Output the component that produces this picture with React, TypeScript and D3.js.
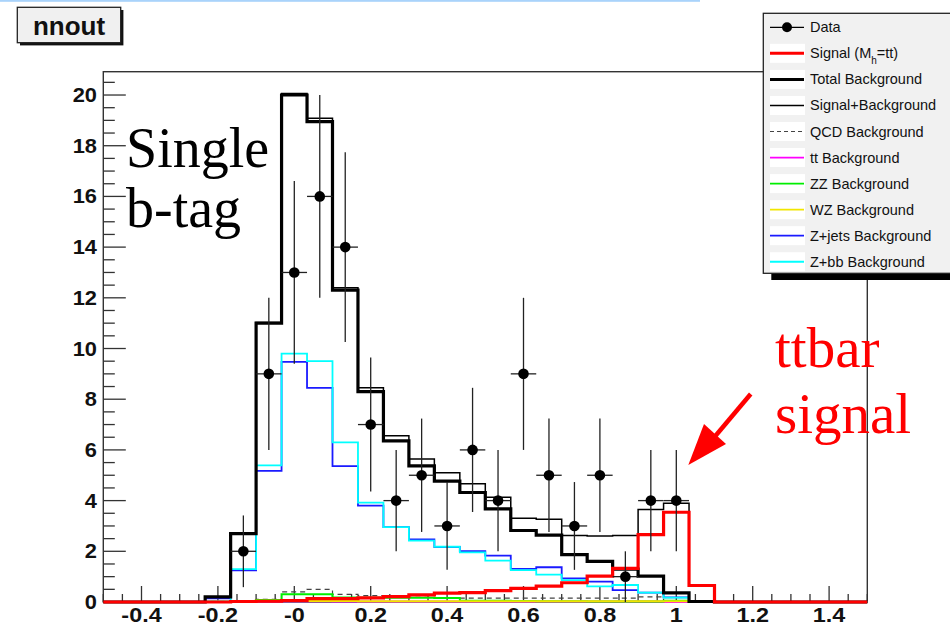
import React from "react";
import * as d3 from "d3";

const W = 950;
const H = 631;

// Histogram binning: 30 bins on [-0.5, 1.5]
const X_MIN = -0.5;
const X_MAX = 1.5;
const N_BINS = 30;
const Y_MAX = 20.92;

// Observed events per bin
const dataCounts = [0, 0, 0, 0, 0, 2, 9, 13, 16, 14, 7, 4, 5, 3, 6, 4, 9, 5, 3, 5, 1, 4, 4, 0, 0, 0, 0, 0, 0, 0];

// Signal (M_h = tt)
const signalVals = [0, 0, 0, 0, 0, 0.02, 0.03, 0.06, 0.13, 0.13, 0.16, 0.21, 0.28, 0.35, 0.37, 0.45, 0.54, 0.63, 0.76, 1.02, 1.33, 2.66, 3.54, 0.65, 0, 0, 0, 0, 0, 0];

// Total background
const totalBkg = [0, 0, 0, 0, 0.2, 2.7, 11.0, 20.0, 18.95, 12.3, 8.3, 6.36, 5.37, 4.77, 4.32, 3.67, 2.82, 2.64, 1.87, 1.6, 1.3, 1.02, 0.36, 0.02, 0, 0, 0, 0, 0, 0];

// Signal + background
const sigPlusBkg = [0, 0, 0, 0, 0.2, 2.72, 11.03, 20.06, 19.08, 12.4, 8.45, 6.56, 5.64, 5.1, 4.66, 4.13, 3.3, 3.26, 2.62, 2.6, 2.62, 3.65, 3.9, 0.67, 0, 0, 0, 0, 0, 0];

// Background components
const qcdBkg = [0, 0, 0, 0, 0.03, 0.03, 0.1, 0.4, 0.5, 0.3, 0.25, 0.2, 0.18, 0.15, 0.15, 0.15, 0.15, 0.15, 0.15, 0.15, 0.15, 0.2, 0.03, 0, 0, 0, 0, 0, 0, 0];
const ttBkg = [0, 0, 0, 0, 0, 0.02, 0.02, 0.03, 0.03, 0.02, 0.02, 0.02, 0.02, 0.02, 0.02, 0.02, 0.02, 0.02, 0.02, 0.02, 0.02, 0.02, 0, 0, 0, 0, 0, 0, 0, 0];
const zzBkg = [0, 0, 0, 0, 0, 0.03, 0.08, 0.31, 0.31, 0.18, 0.17, 0.17, 0.17, 0.16, 0.05, 0.05, 0.04, 0.03, 0.03, 0.02, 0.02, 0.02, 0.05, 0, 0, 0, 0, 0, 0, 0];
const wzBkg = [0, 0, 0, 0, 0.02, 0.04, 0.05, 0.05, 0.04, 0.04, 0.03, 0.03, 0.03, 0.03, 0.03, 0.03, 0.03, 0.03, 0.03, 0.03, 0.03, 0.03, 0.03, 0, 0, 0, 0, 0, 0, 0];
const zjetsBkg = [0, 0, 0, 0, 0.14, 1.25, 5.17, 9.47, 8.45, 5.36, 3.8, 2.95, 2.47, 2.17, 2.01, 1.83, 1.31, 1.37, 0.93, 0.8, 0.47, 0.37, 0.18, 0, 0, 0, 0, 0, 0, 0];
const zbbBkg = [0, 0, 0, 0, 0.02, 1.3, 5.39, 9.8, 9.5, 6.3, 3.92, 2.95, 2.42, 2.18, 1.96, 1.63, 1.26, 1.08, 0.86, 0.62, 0.67, 0.37, 0.17, 0, 0, 0, 0, 0, 0, 0];

// Axis ticks
const xTickValues = [-0.4, -0.2, 0, 0.2, 0.4, 0.6, 0.8, 1, 1.2, 1.4];
const xTickLabels = ["-0.4", "-0.2", "-0", "0.2", "0.4", "0.6", "0.8", "1", "1.2", "1.4"];
const yTickValues = [0, 2, 4, 6, 8, 10, 12, 14, 16, 18, 20];
const yTickLabels = ["0", "2", "4", "6", "8", "10", "12", "14", "16", "18", "20"];

// Legend entries
const legendLabels = [
  "Data",
  "Signal (M",
  "Total Background",
  "Signal+Background",
  "QCD Background",
  "tt Background",
  "ZZ Background",
  "WZ Background",
  "Z+jets Background",
  "Z+bb Background",
];

const FRAME = { left: 103.3, right: 867.3, top: 71.7, bottom: 602 };

const x = d3.scaleLinear().domain([X_MIN, X_MAX]).range([FRAME.left, FRAME.right]);
const y = d3.scaleLinear().domain([0, Y_MAX]).range([FRAME.bottom, FRAME.top]);
const binW = (X_MAX - X_MIN) / N_BINS;

const line = d3.line<[number, number]>();

function histPath(vals: number[]): string {
  const pts: [number, number][] = [[x(X_MIN), y(0)]];
  vals.forEach((v, i) => {
    const lo = X_MIN + i * binW;
    pts.push([x(lo), y(v)], [x(lo + binW), y(v)]);
  });
  pts.push([x(X_MAX), y(0)]);
  return line(pts) || "";
}

const SANS = "'Liberation Sans', Arial, Helvetica, sans-serif";
const SERIF = "'Liberation Serif', 'Times New Roman', serif";

type HistStyle = { vals: number[]; color: string; width: number; dash?: string };

const histLayers: HistStyle[] = [
  { vals: qcdBkg, color: "#444", width: 1.2, dash: "5,4" },
  { vals: ttBkg, color: "#ff00ff", width: 2 },
  { vals: zzBkg, color: "#00ee00", width: 2 },
  { vals: wzBkg, color: "#f2e600", width: 2 },
  { vals: zjetsBkg, color: "#1a1aff", width: 1.8 },
  { vals: zbbBkg, color: "#00ffff", width: 1.8 },
  { vals: totalBkg, color: "#000", width: 3.2 },
  { vals: sigPlusBkg, color: "#000", width: 1.5 },
  { vals: signalVals, color: "#ff0000", width: 3.2 },
];

const legendStyles: { color: string; width: number; dash?: string; marker?: boolean }[] = [
  { color: "#000", width: 1.3, marker: true },
  { color: "#ff0000", width: 3 },
  { color: "#000", width: 3 },
  { color: "#000", width: 1.5 },
  { color: "#444", width: 1.2, dash: "4,3" },
  { color: "#ff00ff", width: 1.8 },
  { color: "#00ee00", width: 1.8 },
  { color: "#f2e600", width: 1.8 },
  { color: "#1a1aff", width: 1.8 },
  { color: "#00ffff", width: 1.8 },
];

export default function App() {
  const xMinor = d3.range(-0.5, 1.5001, 0.05);
  const yMinor = d3.range(0, 20.5001, 0.5);
  const legendX = 763.3;
  const legendY = 13.3;
  const rowY = (i: number) => 27.3 + i * 26.05;

  return (
    <svg
      width={W}
      height={H}
      style={{ position: "absolute", left: 0, top: 0, background: "#fff" }}
    >
      <rect x={0} y={0} width={W} height={H} fill="#fff" />
      <rect x={0} y={0} width={700} height={1.8} fill="#a9d3fb" />

      {/* Title box */}
      <rect x={20} y={10} width={103.4} height={35.4} fill="#111" />
      <rect x={17.3} y={7.3} width={103.4} height={35.4} fill="#f0f0f0" stroke="#222" strokeWidth={1.3} />
      <text x={69} y={34.5} fontFamily={SANS} fontWeight="bold" fontSize={26} textAnchor="middle" fill="#111">
        nnout
      </text>

      {/* Frame */}
      <rect
        x={FRAME.left}
        y={FRAME.top}
        width={FRAME.right - FRAME.left}
        height={FRAME.bottom - FRAME.top}
        fill="none"
        stroke="#333"
        strokeWidth={1.4}
      />

      {/* Y axis ticks */}
      {yMinor.map((v, i) => {
        const major = Math.abs(v / 2 - Math.round(v / 2)) < 1e-6;
        return (
          <line
            key={`ym${i}`}
            x1={FRAME.left}
            x2={FRAME.left + (major ? 22.5 : 11.5)}
            y1={y(v)}
            y2={y(v)}
            stroke="#333"
            strokeWidth={1.3}
          />
        );
      })}
      {yTickValues.map((v, i) => (
        <text
          key={`yl${i}`}
          transform={`translate(97,${y(v) + 7}) scale(1.12,1)`}
          textAnchor="end"
          fontFamily={SANS}
          fontWeight="bold"
          fontSize={19.5}
          fill="#111"
        >
          {yTickLabels[i]}
        </text>
      ))}

      {/* X axis ticks */}
      {xMinor.map((v, i) => {
        const major = Math.abs(v / 0.2 - Math.round(v / 0.2)) < 1e-6;
        return (
          <line
            key={`xm${i}`}
            x1={x(v)}
            x2={x(v)}
            y1={FRAME.bottom}
            y2={FRAME.bottom - (major ? 16 : 8)}
            stroke="#333"
            strokeWidth={1.3}
          />
        );
      })}
      {xTickValues.map((v, i) => (
        <text
          key={`xl${i}`}
          transform={`translate(${x(v)},621.5) scale(1.2,1)`}
          textAnchor="middle"
          fontFamily={SANS}
          fontWeight="bold"
          fontSize={19.5}
          fill="#111"
        >
          {xTickLabels[i]}
        </text>
      ))}

      {/* Histograms */}
      {histLayers.map((h, i) => (
        <path
          key={`h${i}`}
          d={histPath(h.vals)}
          fill="none"
          stroke={h.color}
          strokeWidth={h.width}
          strokeDasharray={h.dash}
          strokeLinejoin="miter"
        />
      ))}

      {/* Data with Poisson errors */}
      {dataCounts.map((n, i) => {
        if (n <= 0) return null;
        const c = X_MIN + (i + 0.5) * binW;
        const err = Math.sqrt(n);
        return (
          <g key={`d${i}`}>
            <line x1={x(c)} x2={x(c)} y1={y(Math.max(0, n - err))} y2={y(n + err)} stroke="#222" strokeWidth={1.3} />
            <line x1={x(c - binW / 2)} x2={x(c + binW / 2)} y1={y(n)} y2={y(n)} stroke="#222" strokeWidth={1.3} />
            <circle cx={x(c)} cy={y(n)} r={5.3} fill="#000" />
          </g>
        );
      })}

      {/* Annotations */}
      <text x={126} y={167} fontFamily={SERIF} fontSize={56} fill="#000">
        Single
      </text>
      <text x={126} y={227} fontFamily={SERIF} fontSize={56} fill="#000">
        b-tag
      </text>
      <text x={775} y={366.7} fontFamily={SERIF} fontSize={57} fill="#ff0000">
        ttbar
      </text>
      <text x={775} y={433.3} fontFamily={SERIF} fontSize={57} fill="#ff0000">
        signal
      </text>
      <line x1={750.7} y1={394} x2={712} y2={440} stroke="#ff0000" strokeWidth={4.5} />
      <polygon points="688.3,465 704,424 726,444" fill="#ff0000" />

      {/* Legend */}
      <rect x={legendX + 8} y={legendY + 6.7} width={200} height={260} fill="#000" />
      <rect x={legendX} y={legendY} width={200} height={260} fill="#f1f1f1" stroke="#222" strokeWidth={1.3} />
      {legendLabels.map((lab, i) => {
        const st = legendStyles[i];
        const cy = rowY(i);
        return (
          <g key={`lg${i}`}>
            {i > 0 && <rect x={770} y={cy - 9.5} width={35} height={19} fill="#fff" />}
            <line
              x1={770}
              x2={804}
              y1={cy}
              y2={cy}
              stroke={st.color}
              strokeWidth={st.width}
              strokeDasharray={st.dash}
            />
            {st.marker && <circle cx={787} cy={cy} r={5} fill="#000" />}
            <text x={810} y={cy + 5} fontFamily={SANS} fontSize={14.5} fill="#111">
              {lab}
              {i === 1 && (
                <>
                  <tspan fontSize={10} dy={6}>
                    h
                  </tspan>
                  <tspan dy={-6}>=tt)</tspan>
                </>
              )}
            </text>
          </g>
        );
      })}
    </svg>
  );
}
